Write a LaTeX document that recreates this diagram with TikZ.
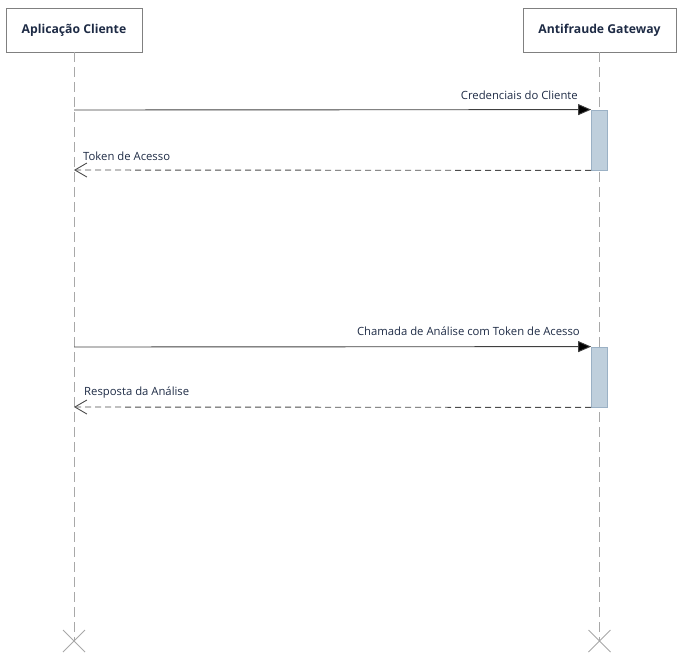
\documentclass[tikz,border=0pt]{standalone}
\usepackage{fontspec}
\setmainfont{Open Sans}
\usetikzlibrary{arrows.meta,calc}
\definecolor{boxline}{HTML}{808080}
\definecolor{txt}{HTML}{1E2B45}
\definecolor{actfill}{HTML}{BFCFDC}
\definecolor{actline}{HTML}{9BB1C5}
\definecolor{life}{HTML}{A8A8A8}
\tikzset{
  x=1pt,y=-1pt,
  actor/.style={draw=boxline,line width=0.9pt,fill=white,minimum height=44pt,inner sep=0pt,font=\fontsize{12.2}{14}\selectfont\bfseries,text=txt},
  lifeline/.style={draw=life,line width=0.9pt,dash pattern=on 10pt off 5pt},
  act/.style={draw=actline,fill=actfill,line width=0.8pt,minimum width=16pt,minimum height=60pt,inner sep=0pt},
  callmsg/.style={draw=black!75,line width=0.9pt,-{Triangle[length=13pt,width=11pt,fill=black]}},
  retmsg/.style={draw=black!70,line width=0.9pt,dash pattern=on 6pt off 4pt,-{Straight Barb[length=12pt,width=14pt,line width=0.9pt]}},
  lbl/.style={font=\fontsize{11.3}{13}\selectfont,text=txt,inner sep=0pt},
  xmark/.style={draw=life,line width=0.9pt}
}
\begin{document}
\begin{tikzpicture}
\useasboundingbox (0,0) rectangle (684,662);
\node[actor,minimum width=136pt] (a) at (74,30) {Aplicação Cliente};
\node[actor,minimum width=153pt] (b) at (599.5,30) {Antifraude Gateway};
\coordinate (aend) at (74,641);
\coordinate (bend) at (599.5,641);
\draw[lifeline] (a.south) -- (aend);
\draw[lifeline] (b.south) -- (bend);
\draw[xmark] ($(aend)+(-11,-11)$) -- ($(aend)+(11,11)$) ($(aend)+(-11,11)$) -- ($(aend)+(11,-11)$);
\draw[xmark] ($(bend)+(-11,-11)$) -- ($(bend)+(11,11)$) ($(bend)+(-11,11)$) -- ($(bend)+(11,-11)$);
% activation 1
\node[act] (act1) at (599.5,140) {};
\coordinate (a1) at (74,110);
\coordinate (a1r) at (74,170);
\draw[callmsg] (a1) -- (act1.north west);
\draw[retmsg] (act1.south west) -- (a1r);
\node[lbl,anchor=east] (l1) at (578,95) {Credenciais do Cliente};
\node[lbl,anchor=west] (l2) at (83,156) {Token de Acesso};
% activation 2
\node[act] (act2) at (599.5,377) {};
\coordinate (a2) at (74,347);
\coordinate (a2r) at (74,407);
\draw[callmsg] (a2) -- (act2.north west);
\draw[retmsg] (act2.south west) -- (a2r);
\node[lbl,anchor=east] (l3) at (580,331) {Chamada de Análise com Token de Acesso};
\node[lbl,anchor=west] (l4) at (84,393) {Resposta da Análise};
\end{tikzpicture}
\end{document}
